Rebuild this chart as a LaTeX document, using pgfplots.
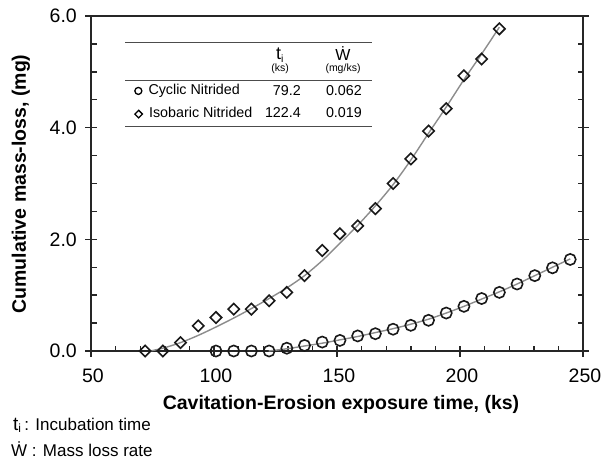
\documentclass[border=0pt]{standalone}
\usepackage{fontspec}
\setmainfont{Liberation Sans}
\usepackage{pgfplots}
\pgfplotsset{compat=1.18}
\definecolor{fitgray}{RGB}{140,140,140}
\begin{document}
\begin{tikzpicture}
\pgfplotsset{
  base/.style={width=492pt,height=335pt,scale only axis,
    at={(91pt,-351pt)},anchor=south west,
    xmin=50,xmax=250,ymin=0,ymax=6,
    xtick={50,100,150,200,250}, ytick={0,2,4,6},
    xtick pos=left, ytick pos=both,
    tick style={line width=1.4pt, black!85},
    axis line style={line width=1.4pt, black!85},
    clip=false},
}
\begin{axis}[base,
  minor x tick num=4, minor y tick num=3,
  tick align=inside, major tick length=5.5pt, minor tick length=5.5pt,
  yticklabel pos=left, xticklabel pos=left,
  ticklabel style={font=\fontsize{19.5}{22}\selectfont, inner sep=1pt},
  xticklabel style={yshift=-17pt, xshift=2pt},
  yticklabel style={xshift=-13pt},
  /pgf/number format/assume math mode=true,
  yticklabel style={/pgf/number format/fixed,/pgf/number format/fixed zerofill,/pgf/number format/precision=1},
]
% fit curves
\addplot[fitgray, line width=1.4pt, smooth, no marks] coordinates {
(74,0) (79.2,0.05) (86.4,0.15) (93.6,0.28) (100.8,0.43) (108,0.59) (115.2,0.76)
(122.4,0.94) (129.6,1.13) (136.8,1.35) (144,1.62) (151.2,1.93) (158.4,2.25)
(165.6,2.6) (172.8,2.98) (180,3.42) (187.2,3.9) (194.4,4.37) (201.6,4.86)
(208.8,5.32) (216,5.8)};
\addplot[fitgray, line width=1.4pt, smooth, no marks] coordinates {
(122.2,0) (129.6,0.04) (136.8,0.09) (144,0.14) (151.2,0.2) (158.4,0.26)
(165.6,0.33) (172.8,0.40) (180,0.48) (187.2,0.57) (194.4,0.68) (201.6,0.80)
(208.8,0.93) (216,1.06) (223.2,1.2) (230.4,1.35) (237.6,1.5) (244.8,1.65)};
% cyclic nitrided (circles)
\addplot[only marks, mark=o, mark size=5.6pt, mark options={line width=1.6pt, black!90}] coordinates {
(100.8,0) (108,0) (115.2,0) (122.4,0) (129.6,0.05) (136.8,0.10) (144,0.16)
(151.2,0.19) (158.4,0.27) (165.6,0.31) (172.8,0.39) (180,0.46) (187.2,0.55)
(194.4,0.68) (201.6,0.80) (208.8,0.94) (216,1.05) (223.2,1.20) (230.4,1.35)
(237.6,1.49) (244.8,1.64)};
% isobaric nitrided (diamonds)
\addplot[only marks, mark=square, mark size=4pt, mark options={rotate=45, line width=1.6pt, black!90}] coordinates {
(72,0) (79.2,0) (86.4,0.15) (93.6,0.45) (100.8,0.6) (108,0.75) (115.2,0.75)
(122.4,0.9) (129.6,1.05) (136.8,1.35) (144,1.8) (151.2,2.1) (158.4,2.24)
(165.6,2.55) (172.8,3.0) (180,3.44) (187.2,3.94) (194.4,4.34) (201.6,4.93)
(208.8,5.23) (216,5.77)};
\end{axis}
% outer halves of the major ticks
\begin{axis}[base, tick align=outside, major tick length=5.5pt,
  minor x tick num=0, minor y tick num=0,
  xticklabels={}, yticklabels={}, axis line style={draw=none}]
\end{axis}
% inset table
\draw[line width=0.9pt, black!70] (125pt,-42pt) -- (372pt,-42pt);
\draw[line width=0.9pt, black!70] (125pt,-80pt) -- (372pt,-80pt);
\draw[line width=0.9pt, black!70] (125pt,-126pt) -- (372pt,-126pt);
\node at (280pt,-55pt) {\fontsize{18}{20}\selectfont t\textsubscript{\fontsize{10.5}{11}\selectfont i}};
\node at (343pt,-54pt) {\fontsize{16}{18}\selectfont \.{W}};
\node at (280pt,-69pt) {\fontsize{10.5}{12}\selectfont (ks)};
\node at (343pt,-69pt) {\fontsize{10.5}{12}\selectfont (mg/ks)};
\node[anchor=west, inner sep=0pt] at (134pt,-91pt) {\fontsize{14.3}{16}\selectfont\tikz[baseline=-0.5ex]\draw[line width=1.3pt] (0,0) circle (3.5pt);\hspace{6pt}Cyclic Nitrided};
\node[anchor=west, inner sep=0pt] at (134pt,-113pt) {\fontsize{14.3}{16}\selectfont\tikz[baseline=-0.5ex]\draw[line width=1.3pt] (0,3.8pt) -- (3.8pt,0) -- (0,-3.8pt) -- (-3.8pt,0) -- cycle;\hspace{6pt}Isobaric Nitrided};
\node[anchor=east, inner sep=0pt] at (301pt,-91pt) {\fontsize{14.3}{16}\selectfont 79.2};
\node[anchor=east, inner sep=0pt] at (301pt,-113pt) {\fontsize{14.3}{16}\selectfont 122.4};
\node[anchor=east, inner sep=0pt] at (362pt,-91pt) {\fontsize{14.3}{16}\selectfont 0.062};
\node[anchor=east, inner sep=0pt] at (362pt,-113pt) {\fontsize{14.3}{16}\selectfont 0.019};
% axis labels
\node[rotate=90, font=\bfseries\fontsize{19.5}{22}\selectfont] at (21pt,-184pt) {Cumulative mass-loss, (mg)};
\node[font=\bfseries\fontsize{19.5}{22}\selectfont, inner sep=1pt] at (341pt,-404pt) {Cavitation-Erosion exposure time, (ks)};
% notes
\node[anchor=base west, inner sep=0pt, font=\fontsize{17}{19}\selectfont] at (13pt,-430pt) {{\fontsize{19}{20}\selectfont t}\textsubscript{i}\,: Incubation time};
\node[anchor=base west, inner sep=0pt, font=\fontsize{17}{19}\selectfont] at (11pt,-456pt) {\.{W} : Mass loss rate};
\pgfresetboundingbox
\path[use as bounding box] (0,0) rectangle (602pt,-471pt);
\end{tikzpicture}
\end{document}
